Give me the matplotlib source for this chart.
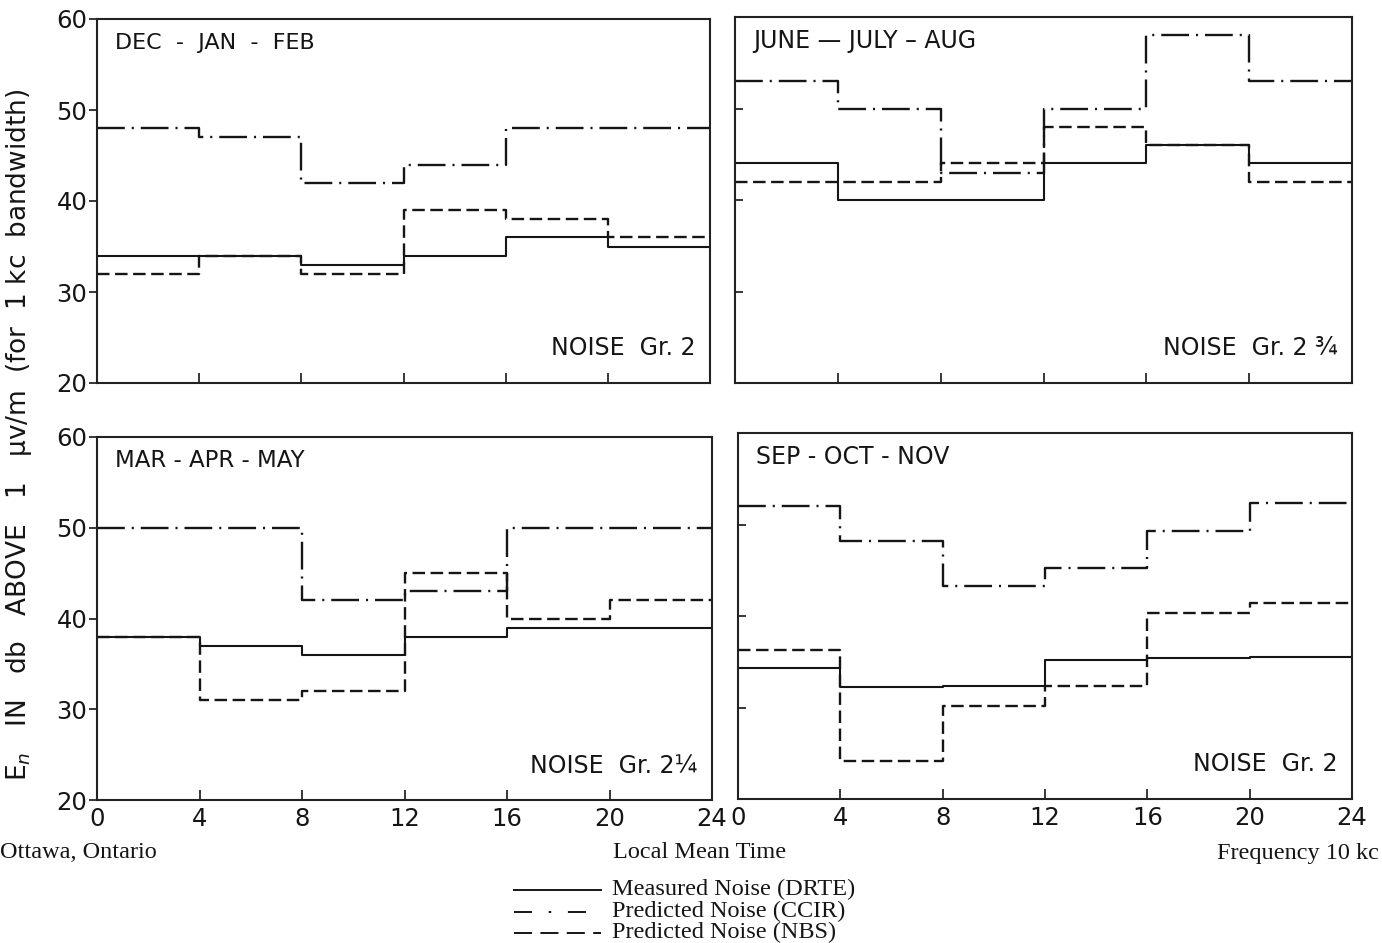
import matplotlib
matplotlib.use("Agg")
import matplotlib.pyplot as plt
from matplotlib.lines import Line2D

plt.rcParams['lines.scale_dashes'] = False

hours = [0, 4, 8, 12, 16, 20, 24]
xticks = [0, 4, 8, 12, 16, 20, 24]
yticks = [20, 30, 40, 50, 60]

# DEC-JAN-FEB
djf_measured = [34, 34, 33, 34, 36, 35]
djf_ccir = [48, 47, 42, 44, 48, 48]
djf_nbs = [32, 34, 32, 39, 38, 36]
# JUNE-JULY-AUG
jja_measured = [44, 40, 40, 44, 46, 44]
jja_ccir = [53, 50, 43, 50, 58, 53]
jja_nbs = [42, 42, 44, 48, 46, 42]
# MAR-APR-MAY
mam_measured = [38, 37, 36, 38, 39, 39]
mam_ccir = [50, 50, 42, 43, 50, 50]
mam_nbs = [38, 31, 32, 45, 40, 42]
# SEP-OCT-NOV
son_measured = [34.3, 32.2, 32.3, 35.2, 35.4, 35.5]
son_ccir = [52.0, 48.2, 43.3, 45.3, 49.3, 52.4]
son_nbs = [36.3, 24.2, 30.2, 32.3, 40.3, 41.4]

titles = ["DEC  -  JAN  -  FEB", "JUNE — JULY – AUG", "MAR - APR - MAY", "SEP - OCT - NOV"]
title_sizes = [16, 17, 16.5, 17]
groups = ["NOISE  Gr. 2", "NOISE  Gr. 2 ¾", "NOISE  Gr. 2¼", "NOISE  Gr. 2"]
legend_labels = ["Measured Noise (DRTE)", "Predicted Noise (CCIR)", "Predicted Noise (NBS)"]

W, H = 1382, 943
fig = plt.figure(figsize=(W / 100, H / 100), dpi=100)

def rect(x0, x1, ytop, ybot):
    return [x0 / W, 1 - ybot / H, (x1 - x0) / W, (ybot - ytop) / H]

rects = [rect(97, 710, 19, 383), rect(735, 1352, 17, 383),
         rect(97, 712, 437, 800), rect(738, 1352, 433, 799)]

data = [(djf_measured, djf_ccir, djf_nbs), (jja_measured, jja_ccir, jja_nbs),
        (mam_measured, mam_ccir, mam_nbs), (son_measured, son_ccir, son_nbs)]

ink = '#151515'
ccir_style = (0, (20, 5, 1.5, 5))
nbs_style = (0, (9, 4))
sans = 'DejaVu Sans'

for i, (r, (meas, ccir, nbs)) in enumerate(zip(rects, data)):
    ax = fig.add_axes(r)
    ax.set_xlim(0, 24)
    ax.set_ylim(20, 60)
    ax.step(hours, ccir + [ccir[-1]], where='post', color=ink, lw=1.7, linestyle=ccir_style)
    ax.step(hours, nbs + [nbs[-1]], where='post', color=ink, lw=1.7, linestyle=nbs_style)
    ax.step(hours, meas + [meas[-1]], where='post', color=ink, lw=1.5)
    for s in ax.spines.values():
        s.set_linewidth(1.5)
        s.set_color('#222222')
    ax.set_xticks(xticks)
    ax.set_yticks(yticks)
    ax.tick_params(axis='x', direction='in', length=7, width=1.2, labelsize=17.5, pad=5, colors=ink)
    left = (i % 2 == 0)
    bottom = (i >= 2)
    ax.tick_params(axis='y', direction='out' if left else 'in', length=6, width=1.2,
                   labelsize=17.5, pad=1, colors=ink)
    if not left:
        ax.set_yticklabels([])
    if not bottom:
        ax.set_xticklabels([])
    for lab in ax.get_xticklabels() + ax.get_yticklabels():
        lab.set_family(sans)
    ax.text(0.03, 0.935, titles[i], transform=ax.transAxes, fontsize=title_sizes[i],
            family=sans, va='center', ha='left', color=ink)
    ax.text(0.977, 0.095, groups[i], transform=ax.transAxes, fontsize=17,
            family=sans, va='center', ha='right', color=ink)

fig.text(19 / W, 1 - 435 / H,
         "E$_n$   IN   db   ABOVE   1   μv/m  (for  1 kc  bandwidth)",
         rotation=90, va='center', ha='center', fontsize=19, family=sans, color=ink)

serif = 'Liberation Serif'
fs_serif = 17.5
fig.text(0 / W, 1 - 853 / H, "Ottawa, Ontario", ha='left', va='center',
         fontsize=fs_serif, family=serif, color=ink)
fig.text(700 / W, 1 - 853 / H, "Local Mean Time", ha='center', va='center',
         fontsize=fs_serif, family=serif, color=ink)
fig.text(1379 / W, 1 - 853 / H, "Frequency 10 kc", ha='right', va='center',
         fontsize=fs_serif, family=serif, color=ink)

# legend (manual, figure coordinates)
leg_styles = ['-', (0, (13, 12, 1.8, 12)), (0, (13, 6))]
leg_rows = [889, 911, 932]
for lab, st, yy in zip(legend_labels, leg_styles, leg_rows):
    fig.add_artist(Line2D([514 / W, 601 / W], [1 - (yy + 1) / H] * 2,
                          transform=fig.transFigure, color=ink, lw=1.4, linestyle=st))
    fig.text(612 / W, 1 - yy / H, lab, ha='left', va='center',
             fontsize=fs_serif, family=serif, color=ink)

fig.savefig("out.png", dpi=100)
